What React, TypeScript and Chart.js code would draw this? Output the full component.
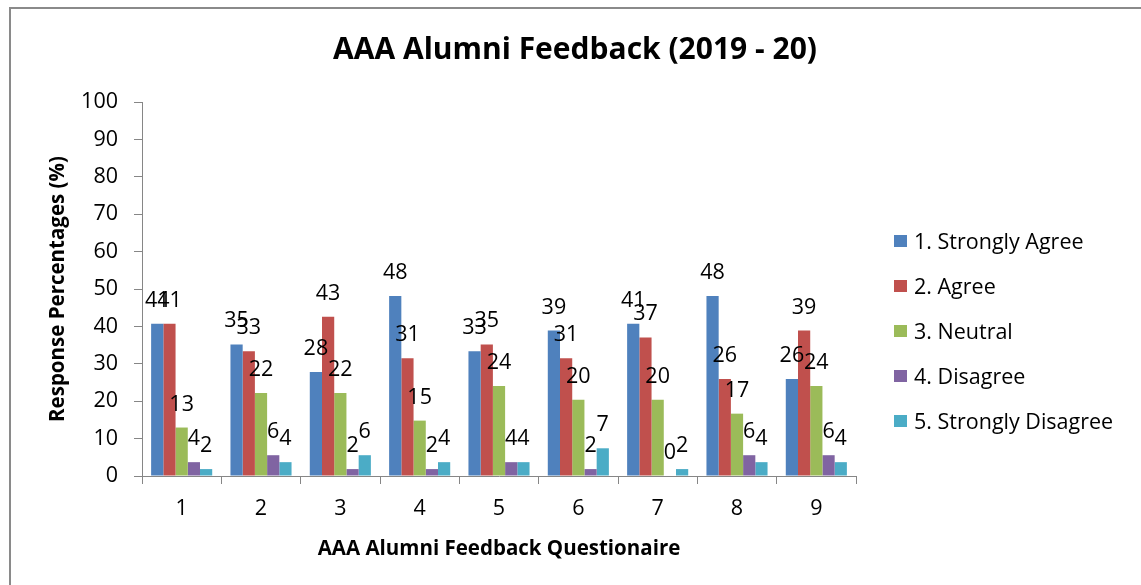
import React, { useEffect, useRef } from "react";
import { Chart, registerables } from "chart.js";

Chart.register(...registerables);

const chartTitle = "AAA Alumni Feedback (2019 - 20)";
const categories = ["1", "2", "3", "4", "5", "6", "7", "8", "9"];
const seriesLabels = [
  "1. Strongly Agree",
  "2. Agree",
  "3. Neutral",
  "4. Disagree",
  "5. Strongly Disagree",
];
const strongAgree = [40.74, 35.19, 27.78, 48.15, 33.33, 38.89, 40.74, 48.15, 25.93];
const agree = [40.74, 33.33, 42.59, 31.48, 35.19, 31.48, 37.04, 25.93, 38.89];
const neutral = [12.96, 22.22, 22.22, 14.81, 24.07, 20.37, 20.37, 16.67, 24.07];
const disagree = [3.7, 5.56, 1.85, 1.85, 3.7, 1.85, 0, 5.56, 5.56];
const strongDisagree = [1.85, 3.7, 5.56, 3.7, 3.7, 7.41, 1.85, 3.7, 3.7];
const seriesColors = ["#4F81BD", "#C0504D", "#9BBB59", "#8064A2", "#4BACC6"];
const yMin = 0;
const yMax = 100;
const yStep = 10;

const FONT = "'Open Sans', sans-serif";

const borderPlugin = {
  id: "frameBorder",
  beforeDraw(chart: any) {
    const ctx = chart.ctx;
    ctx.save();
    ctx.fillStyle = "#ffffff";
    ctx.fillRect(0, 0, chart.width, chart.height);
    ctx.strokeStyle = "#8a8a8a";
    ctx.lineWidth = 2;
    ctx.strokeRect(10, 8, chart.width + 20, chart.height + 20);
    ctx.restore();
  },
};

const titlePlugin = {
  id: "centeredTitle",
  afterDraw(chart: any) {
    const ctx = chart.ctx;
    ctx.save();
    ctx.font = `bold 30px ${FONT}`;
    ctx.fillStyle = "#000";
    ctx.textAlign = "center";
    ctx.textBaseline = "middle";
    ctx.fillText(chartTitle, 575, 50);
    ctx.restore();
  },
};

const dataLabelPlugin = {
  id: "barValueLabels",
  afterDatasetsDraw(chart: any) {
    const ctx = chart.ctx;
    ctx.save();
    ctx.font = `21.5px ${FONT}`;
    ctx.fillStyle = "#000";
    ctx.textAlign = "center";
    ctx.textBaseline = "alphabetic";
    chart.data.datasets.forEach((ds: any, i: number) => {
      const meta = chart.getDatasetMeta(i);
      meta.data.forEach((bar: any, j: number) => {
        const v = ds.data[j];
        ctx.fillText(String(Math.round(v)), bar.x, bar.y - 17);
      });
    });
    ctx.restore();
  },
};

const legendPlugin = {
  id: "sideLegend",
  afterDraw(chart: any) {
    const ctx = chart.ctx;
    ctx.save();
    ctx.font = `21.5px ${FONT}`;
    ctx.textAlign = "left";
    ctx.textBaseline = "alphabetic";
    chart.data.datasets.forEach((ds: any, i: number) => {
      const base = 249 + i * 45;
      ctx.fillStyle = ds.backgroundColor;
      ctx.fillRect(894, base - 14, 13, 12);
      ctx.fillStyle = "#000";
      ctx.fillText(ds.label, 914, base);
    });
    ctx.restore();
  },
};

export default function App() {
  const ref = useRef<HTMLCanvasElement | null>(null);

  useEffect(() => {
    document.body.style.margin = "0";
    const canvas = ref.current!;
    const series = [strongAgree, agree, neutral, disagree, strongDisagree];
    const chart = new Chart(canvas, {
      type: "bar",
      data: {
        labels: categories,
        datasets: series.map((d, i) => ({
          label: seriesLabels[i],
          data: d,
          backgroundColor: seriesColors[i],
          borderWidth: 0,
          barPercentage: 1,
          categoryPercentage: 0.77,
        })),
      },
      options: {
        responsive: false,
        animation: false,
        layout: { padding: { left: 0, right: 285, top: 102, bottom: 0 } },
        plugins: {
          legend: { display: false },
          tooltip: { enabled: false },
          title: { display: false },
        },
        scales: {
          x: {
            afterFit(scale: any) {
              scale.height = 109;
            },
            grid: {
              display: true,
              drawOnChartArea: false,
              drawTicks: true,
              tickLength: 8,
              color: "#868686",
            },
            border: { display: true, color: "#868686", width: 1 },
            ticks: {
              color: "#000",
              font: { family: FONT, size: 21.5 },
              padding: 12,
            },
            title: {
              display: true,
              text: "AAA Alumni Feedback Questionaire",
              color: "#000",
              font: { family: FONT, size: 20.5, weight: "bold" },
              padding: { top: 0, bottom: 24 },
            },
          },
          y: {
            min: yMin,
            max: yMax,
            afterFit(scale: any) {
              scale.width = 142;
            },
            grid: {
              display: true,
              drawOnChartArea: false,
              drawTicks: true,
              tickLength: 8,
              color: "#868686",
            },
            border: { display: true, color: "#868686", width: 1 },
            ticks: {
              stepSize: yStep,
              color: "#000",
              font: { family: FONT, size: 21.5 },
              padding: 16,
            },
            title: {
              display: true,
              text: "Response Percentages (%)",
              color: "#000",
              font: { family: FONT, size: 20.5, weight: "bold" },
              padding: { top: 46, bottom: 0 },
            },
          },
        },
      },
      plugins: [borderPlugin, dataLabelPlugin, legendPlugin, titlePlugin],
    });
    return () => chart.destroy();
  }, []);

  return (
    <canvas
      ref={ref}
      width={1141}
      height={585}
      style={{ display: "block", width: 1141, height: 585 }}
    />
  );
}
